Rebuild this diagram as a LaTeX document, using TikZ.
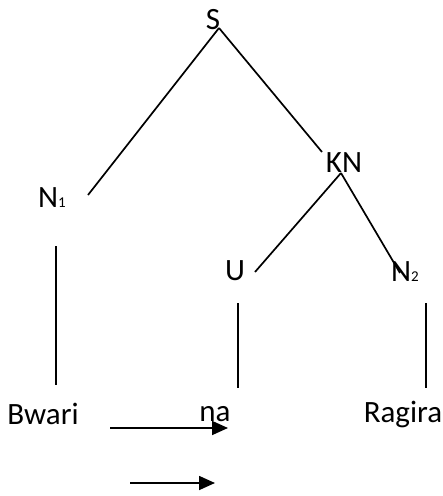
\documentclass[tikz,border=0pt]{standalone}
\usepackage{fontspec}
\setmainfont{Carlito}
\usetikzlibrary{arrows.meta}
\newcommand{\lowsub}[1]{{\fontsize{15pt}{15pt}\selectfont #1}}
\begin{document}
\begin{tikzpicture}[x=1pt,y=-1pt,
  lbl/.style={inner sep=0pt,font=\fontsize{31pt}{32pt}\selectfont},
  edge/.style={line width=1.7pt},
  arr/.style={line width=1.7pt,-{Triangle[length=16pt,width=14pt]}}]
\useasboundingbox (0,0) rectangle (443,496);
\node[lbl] (S) at (213,20) {S};
\node[lbl] (KN) at (344,163) {KN};
\node[lbl] (N1) at (52,198) {N\lowsub{1}};
\node[lbl] (U) at (235,271) {U};
\node[lbl] (N2) at (405,272) {N\lowsub{2}};
\node[lbl] (bwari) at (43,414) {Bwari};
\node[lbl] (na) at (215,414) {na};
\node[lbl] (ragira) at (403,414) {Ragira};
\coordinate (s0) at (219,28);
\coordinate (n1t) at (88,195);
\coordinate (knt) at (322,152);
\coordinate (kn0) at (341,173);
\coordinate (ut) at (255,272);
\coordinate (n2t) at (400,273);
\coordinate (n1a) at (56,246);
\coordinate (n1b) at (56,385);
\coordinate (ua) at (238,303);
\coordinate (ub) at (238,388);
\coordinate (n2a) at (426,303);
\coordinate (n2b) at (426,388);
\coordinate (a1s) at (110,428);
\coordinate (a1e) at (228,428);
\coordinate (a2s) at (130,483);
\coordinate (a2e) at (215,483);
\draw[edge] (s0) -- (n1t);
\draw[edge] (s0) -- (knt);
\draw[edge] (kn0) -- (ut);
\draw[edge] (kn0) -- (n2t);
\draw[edge] (n1a) -- (n1b);
\draw[edge] (ua) -- (ub);
\draw[edge] (n2a) -- (n2b);
\draw[arr] (a1s) -- (a1e);
\draw[arr] (a2s) -- (a2e);
\end{tikzpicture}
\end{document}
